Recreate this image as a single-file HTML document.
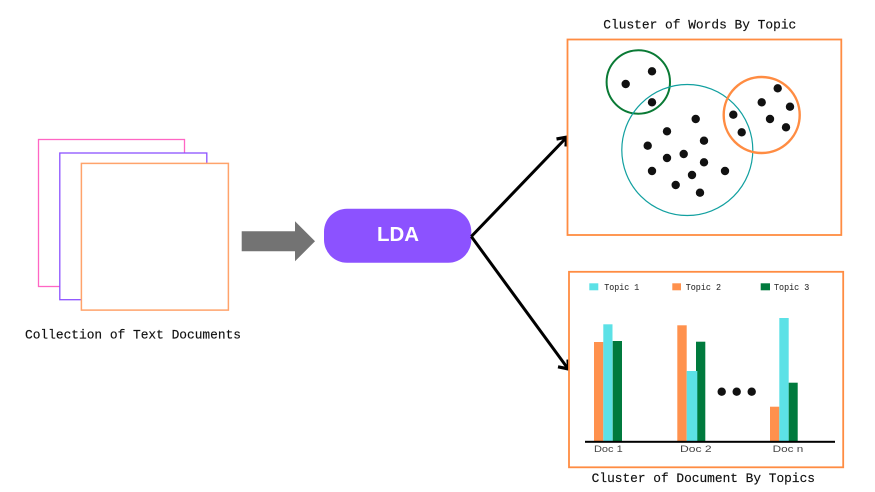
<!DOCTYPE html>
<html>
<head>
<meta charset="utf-8">
<style>
html,body{margin:0;padding:0;background:#fff;width:875px;height:492px;overflow:hidden}
svg{display:block}
.m{font-family:"Liberation Mono",monospace;font-size:12.8px;fill:#111;stroke:#111;stroke-width:.15}
.l{font-family:"Liberation Mono",monospace;font-size:8.8px;fill:#333;stroke:#333;stroke-width:.1}
.d{font-family:"Liberation Sans",sans-serif;font-size:9.2px;fill:#444}
</style>
</head>
<body>
<svg width="875" height="492" viewBox="0 0 875 492" xmlns="http://www.w3.org/2000/svg">
<rect width="875" height="492" fill="#fff"/>
<!-- documents -->
<rect x="38.5" y="139.5" width="146" height="147" fill="#fff" stroke="#ff66c4" stroke-width="1.3"/>
<rect x="59.8" y="153" width="147" height="146.7" fill="#fff" stroke="#8c52ff" stroke-width="1.3"/>
<rect x="81.4" y="163.4" width="147" height="146.7" fill="#fff" stroke="#ffa36b" stroke-width="1.5"/>
<text class="m" x="25" y="338.5" textLength="216" lengthAdjust="spacingAndGlyphs">Collection of Text Documents</text>
<!-- grey arrow -->
<polygon points="241.7,231.3 295,231.3 295,221.3 315,241.3 295,261.3 295,251.3 241.7,251.3" fill="#737373"/>
<!-- LDA -->
<rect x="324" y="208.7" width="147.3" height="54" rx="23" ry="23" fill="#8c52ff"/>
<text x="398" y="241" text-anchor="middle" font-family="'Liberation Sans',sans-serif" font-weight="700" font-size="20.5" fill="#fff" textLength="42" lengthAdjust="spacingAndGlyphs">LDA</text>
<!-- connectors -->
<g fill="none" stroke="#000" stroke-width="3" stroke-linecap="butt" stroke-linejoin="miter">
<path d="M471.3 236.5 L565.5 138.5"/>
<path d="M471.3 236.5 L567.5 368"/>
<path d="M556.5 139 L566.5 137.2 L566 146.5" stroke-width="3.2"/>
<path d="M558 366.8 L568.5 369 L568 359.5" stroke-width="3.2"/>
</g>
<!-- top panel -->
<text class="m" x="603.3" y="28.5" textLength="193" lengthAdjust="spacingAndGlyphs">Cluster of Words By Topic</text>
<rect x="567.5" y="39.5" width="273.8" height="195.5" fill="#fff" stroke="#ff8c42" stroke-width="1.8"/>
<circle cx="638.3" cy="82" r="31.7" fill="none" stroke="#0a7a35" stroke-width="2"/>
<circle cx="687.3" cy="150" r="65.5" fill="none" stroke="#12a0a0" stroke-width="1.2"/>
<circle cx="761.7" cy="115" r="38" fill="none" stroke="#ff8c42" stroke-width="2.4"/>
<g fill="#111">
<circle cx="625.7" cy="84" r="4.2"/><circle cx="652" cy="71.3" r="4.2"/><circle cx="652" cy="102.3" r="4.2"/>
<circle cx="695.7" cy="119" r="4.2"/><circle cx="667" cy="131.3" r="4.2"/><circle cx="704" cy="140.7" r="4.2"/>
<circle cx="647.7" cy="145.7" r="4.2"/><circle cx="683.7" cy="154" r="4.2"/><circle cx="667" cy="158" r="4.2"/>
<circle cx="704" cy="162.3" r="4.2"/><circle cx="652" cy="171" r="4.2"/><circle cx="692" cy="175" r="4.2"/>
<circle cx="725" cy="171" r="4.2"/><circle cx="675.7" cy="185" r="4.2"/><circle cx="700" cy="192.7" r="4.2"/>
<circle cx="733.3" cy="114.7" r="4.2"/><circle cx="741.7" cy="132.3" r="4.2"/><circle cx="761.7" cy="102.3" r="4.2"/>
<circle cx="777.7" cy="88.3" r="4.2"/><circle cx="790" cy="106.7" r="4.2"/><circle cx="770" cy="119" r="4.2"/>
<circle cx="786" cy="127.3" r="4.2"/>
</g>
<!-- bottom panel -->
<rect x="569" y="271.8" width="274.2" height="195.5" fill="#fff" stroke="#ff8c42" stroke-width="1.8"/>
<rect x="589.3" y="283.3" width="9" height="7" fill="#5ce1e6"/>
<text class="l" x="604.3" y="290" textLength="35" lengthAdjust="spacingAndGlyphs">Topic 1</text>
<rect x="672.3" y="283.3" width="8.7" height="7" fill="#ff914d"/>
<text class="l" x="685.7" y="290" textLength="35.3" lengthAdjust="spacingAndGlyphs">Topic 2</text>
<rect x="760.7" y="283.3" width="9.3" height="7" fill="#007a3d"/>
<text class="l" x="774" y="290" textLength="35.3" lengthAdjust="spacingAndGlyphs">Topic 3</text>
<!-- bars -->
<rect x="594" y="342" width="9.3" height="99" fill="#ff914d"/>
<rect x="603.3" y="324.3" width="9.2" height="116.7" fill="#5ce1e6"/>
<rect x="612.7" y="341" width="9.3" height="100" fill="#007a3d"/>
<rect x="677.3" y="325.3" width="9.4" height="115.7" fill="#ff914d"/>
<rect x="696" y="341.7" width="9.3" height="99.3" fill="#007a3d"/>
<rect x="686.7" y="371" width="10.6" height="70" fill="#5ce1e6"/>
<rect x="770" y="406.7" width="9.3" height="34.3" fill="#ff914d"/>
<rect x="779.3" y="318" width="9.4" height="123" fill="#5ce1e6"/>
<rect x="788.7" y="382.7" width="9" height="58.3" fill="#007a3d"/>
<rect x="585" y="440.8" width="250" height="2" fill="#000"/>
<circle cx="721.7" cy="391.7" r="4.2" fill="#111"/>
<circle cx="736.7" cy="391.7" r="4.2" fill="#111"/>
<circle cx="751.7" cy="391.7" r="4.2" fill="#111"/>
<text class="d" x="594" y="451.8" textLength="28.7" lengthAdjust="spacingAndGlyphs">Doc 1</text>
<text class="d" x="680" y="451.8" textLength="31.7" lengthAdjust="spacingAndGlyphs">Doc 2</text>
<text class="d" x="772.7" y="451.8" textLength="30.6" lengthAdjust="spacingAndGlyphs">Doc n</text>
<text class="m" x="591.7" y="482" textLength="223.3" lengthAdjust="spacingAndGlyphs">Cluster of Document By Topics</text>
</svg>
</body>
</html>
